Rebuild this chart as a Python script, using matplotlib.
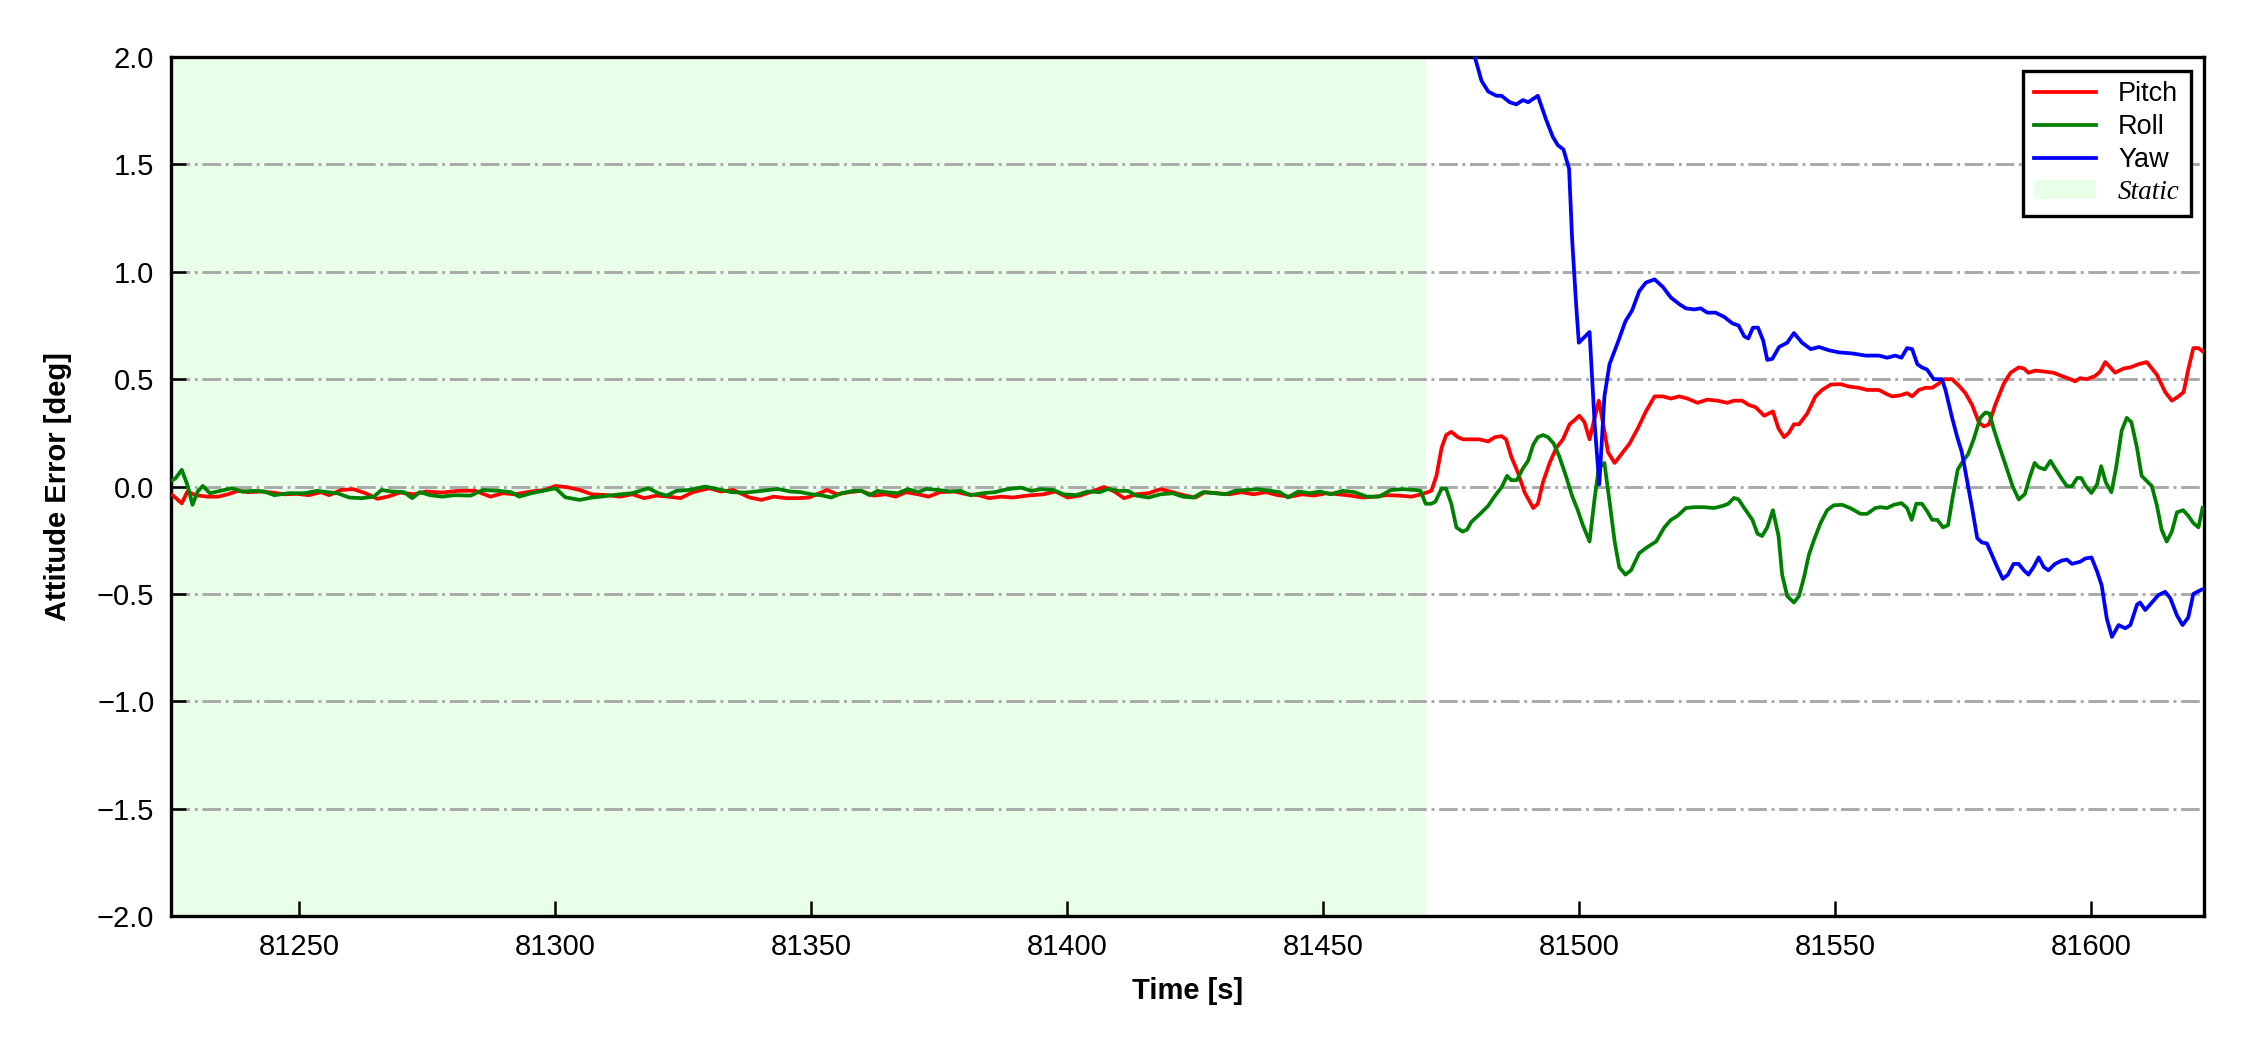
import matplotlib
matplotlib.use("Agg")
import matplotlib.pyplot as plt

# Time stamps [s] and attitude errors [deg]
pitch_t = [81225.3, 81227.1, 81228.2, 81229.8, 81232.2, 81234.2, 81236.1, 81238.1, 81240.1, 81242.5,
           81244.8, 81247.2, 81249.6, 81251.9, 81254.3, 81255.9, 81258.2, 81260.6, 81263.0, 81265.3,
           81267.3, 81269.7, 81272.4, 81274.8, 81277.9, 81281.1, 81284.3, 81287.4, 81289.8, 81292.2,
           81295.3, 81298.1, 81300.1, 81302.4, 81304.8, 81307.2, 81310.3, 81312.7, 81315.1, 81317.4,
           81319.8, 81322.2, 81324.5, 81326.9, 81330.1, 81332.4, 81334.8, 81338.0, 81340.3, 81342.7,
           81345.1, 81347.4, 81349.6, 81351.6, 81353.1, 81355.1, 81357.5, 81359.8, 81362.2, 81364.6,
           81366.5, 81368.5, 81370.9, 81372.9, 81375.2, 81378.0, 81380.4, 81382.7, 81384.7, 81387.1,
           81389.4, 81392.2, 81395.4, 81397.7, 81400.1, 81402.5, 81404.8, 81407.2, 81409.2, 81411.1,
           81413.5, 81415.9, 81418.2, 81420.6, 81423.0, 81425.0, 81426.9, 81429.3, 81431.7, 81434.0,
           81436.4, 81438.8, 81441.1, 81443.5, 81445.9, 81448.2, 81450.6, 81453.0, 81455.3, 81457.7,
           81460.1, 81462.4, 81464.8, 81467.2, 81469.2,
           81471.1, 81472.1, 81473.1, 81474.0, 81475.0, 81476.3, 81477.3, 81478.9, 81480.5, 81482.2,
           81483.5, 81484.8, 81485.7, 81486.7, 81488.0, 81489.3, 81491.0, 81491.9, 81492.9, 81494.2,
           81495.5, 81496.8, 81498.1, 81499.1, 81500.0, 81501.0, 81502.0, 81503.0, 81503.8, 81504.6,
           81505.6, 81506.9, 81508.2, 81509.8, 81511.4, 81513.0, 81514.7, 81516.3, 81517.9, 81519.5,
           81521.1, 81523.1, 81525.0, 81527.0, 81528.9, 81530.2, 81531.8, 81533.1, 81534.4, 81536.1,
           81537.8, 81538.9, 81540.0, 81540.9, 81541.9, 81542.9, 81544.5, 81546.1, 81547.4, 81549.1,
           81551.0, 81552.6, 81554.6, 81556.2, 81558.5, 81560.1, 81561.1, 81562.7, 81564.0, 81565.0,
           81566.3, 81567.6, 81568.9, 81570.2, 81571.2, 81572.8, 81574.1, 81575.4, 81576.7, 81578.0,
           81579.0, 81580.0, 81581.2, 81582.9, 81584.2, 81585.8, 81586.8, 81587.7, 81589.0, 81591.0,
           81592.6, 81594.2, 81595.9, 81596.8, 81597.8, 81599.1, 81600.7, 81601.7, 81602.7, 81603.7,
           81604.6, 81606.3, 81607.6, 81609.2, 81610.8, 81612.8, 81614.4, 81615.7, 81617.0, 81618.0,
           81618.9, 81619.9, 81620.9, 81621.7]
pitch = [-0.040, -0.078, -0.023, -0.040, -0.047, -0.047, -0.036, -0.020, -0.026, -0.023,
         -0.028, -0.036, -0.034, -0.040, -0.026, -0.040, -0.016, -0.012, -0.031, -0.057,
         -0.047, -0.028, -0.036, -0.023, -0.028, -0.020, -0.019, -0.047, -0.031, -0.036,
         -0.023, -0.016, 0.003, -0.003, -0.016, -0.036, -0.040, -0.047, -0.036, -0.054,
         -0.042, -0.047, -0.054, -0.026, -0.008, -0.023, -0.016, -0.051, -0.062, -0.047,
         -0.054, -0.054, -0.051, -0.031, -0.016, -0.036, -0.026, -0.020, -0.042, -0.036,
         -0.047, -0.026, -0.036, -0.047, -0.026, -0.023, -0.036, -0.040, -0.054, -0.047,
         -0.051, -0.042, -0.036, -0.023, -0.051, -0.042, -0.023, -0.002, -0.023, -0.054,
         -0.036, -0.031, -0.012, -0.026, -0.042, -0.051, -0.026, -0.031, -0.036, -0.026,
         -0.036, -0.026, -0.040, -0.047, -0.036, -0.042, -0.031, -0.036, -0.042, -0.051,
         -0.047, -0.040, -0.042, -0.047, -0.036,
         -0.020, 0.050, 0.180, 0.240, 0.255, 0.230, 0.220, 0.220, 0.220, 0.210,
         0.230, 0.235, 0.220, 0.140, 0.066, -0.026, -0.100, -0.080, 0.020, 0.110,
         0.180, 0.220, 0.290, 0.310, 0.330, 0.300, 0.220, 0.320, 0.400, 0.300,
         0.160, 0.110, 0.150, 0.200, 0.270, 0.350, 0.420, 0.420, 0.410, 0.420,
         0.410, 0.390, 0.405, 0.400, 0.390, 0.400, 0.400, 0.380, 0.370, 0.330,
         0.350, 0.270, 0.230, 0.250, 0.290, 0.290, 0.340, 0.420, 0.450, 0.475,
         0.477, 0.466, 0.460, 0.450, 0.450, 0.430, 0.420, 0.425, 0.435, 0.420,
         0.450, 0.460, 0.460, 0.480, 0.500, 0.500, 0.470, 0.435, 0.380, 0.300,
         0.280, 0.290, 0.380, 0.480, 0.530, 0.555, 0.550, 0.530, 0.540, 0.535,
         0.530, 0.515, 0.500, 0.490, 0.505, 0.500, 0.515, 0.535, 0.580, 0.555,
         0.530, 0.550, 0.555, 0.570, 0.580, 0.520, 0.440, 0.400, 0.420, 0.440,
         0.545, 0.645, 0.645, 0.630]

roll_t = [81225.3, 81225.9, 81227.1, 81228.2, 81229.2, 81230.2, 81231.2, 81232.6, 81234.6, 81236.9,
          81238.9, 81241.3, 81243.2, 81245.2, 81248.0, 81251.1, 81253.5, 81255.5, 81257.5, 81259.8,
          81262.2, 81264.6, 81266.1, 81268.1, 81270.5, 81272.1, 81273.6, 81275.6, 81278.0, 81280.3,
          81283.5, 81285.9, 81289.0, 81291.4, 81293.0, 81295.3, 81298.5, 81300.1, 81302.0, 81304.8,
          81307.2, 81310.3, 81312.7, 81315.1, 81318.2, 81320.2, 81321.8, 81323.7, 81326.1, 81329.3,
          81331.6, 81334.4, 81337.2, 81340.3, 81343.5, 81345.9, 81348.0, 81350.0, 81351.9, 81353.9,
          81355.9, 81358.3, 81359.8, 81361.4, 81363.0, 81364.6, 81366.9, 81368.9, 81370.9, 81372.5,
          81374.8, 81377.2, 81379.2, 81381.1, 81383.5, 81385.9, 81388.3, 81391.0, 81393.0, 81394.9,
          81397.3, 81399.3, 81401.7, 81404.0, 81406.4, 81408.0, 81410.0, 81411.9, 81413.5, 81415.9,
          81418.2, 81420.6, 81422.6, 81424.6, 81426.5, 81428.9, 81430.9, 81432.8, 81434.8, 81437.2,
          81439.6, 81441.5, 81443.1, 81445.1, 81447.4, 81449.4, 81451.4, 81453.8, 81456.1, 81458.5,
          81460.9, 81463.2, 81465.6, 81468.0, 81469.0, 81470.0,
          81471.1, 81471.9, 81473.1, 81474.0, 81475.0, 81476.0, 81477.2, 81478.1, 81478.9, 81480.5,
          81482.2, 81483.5, 81484.8, 81485.9, 81486.7, 81487.8, 81489.0, 81490.0, 81491.0, 81491.9,
          81492.9, 81493.9, 81495.0, 81496.1, 81497.4, 81498.6, 81499.7, 81500.7, 81502.0, 81503.0,
          81503.8, 81504.9, 81505.9, 81506.9, 81507.8, 81509.0, 81510.1, 81511.7, 81513.4, 81515.0,
          81516.6, 81517.9, 81519.2, 81520.8, 81522.4, 81524.4, 81526.3, 81528.0, 81529.1, 81530.2,
          81531.1, 81532.2, 81533.8, 81534.8, 81535.7, 81536.7, 81537.8, 81538.9, 81539.6, 81540.6,
          81541.9, 81542.9, 81543.9, 81544.8, 81545.8, 81547.1, 81548.4, 81549.7, 81551.3, 81552.9,
          81554.9, 81556.2, 81557.8, 81558.8, 81560.1, 81561.4, 81562.9, 81564.0, 81564.9, 81565.8,
          81566.9, 81567.9, 81568.9, 81569.9, 81571.0, 81572.0, 81572.9, 81573.9, 81574.7, 81575.9,
          81577.0, 81578.3, 81579.3, 81580.1, 81580.9, 81581.9, 81583.2, 81584.6, 81585.8, 81587.0,
          81587.9, 81588.9, 81589.7, 81590.9, 81592.0, 81592.9, 81594.1, 81595.2, 81596.2, 81597.2,
          81598.0, 81598.9, 81600.0, 81601.1, 81601.9, 81602.8, 81603.9, 81604.8, 81605.9, 81606.9,
          81607.8, 81608.9, 81609.8, 81610.8, 81611.8, 81612.8, 81613.7, 81614.7, 81615.7, 81616.7,
          81617.9, 81618.9, 81619.9, 81620.9, 81621.7]
roll = [0.030, 0.039, 0.078, 0.008, -0.085, -0.023, 0.003, -0.031, -0.020, -0.008,
        -0.023, -0.020, -0.023, -0.040, -0.031, -0.031, -0.020, -0.026, -0.031, -0.051,
        -0.054, -0.047, -0.016, -0.023, -0.026, -0.054, -0.026, -0.040, -0.047, -0.040,
        -0.042, -0.016, -0.020, -0.026, -0.047, -0.031, -0.016, -0.008, -0.050, -0.062,
        -0.051, -0.043, -0.036, -0.031, -0.008, -0.031, -0.042, -0.020, -0.016, 0.000,
        -0.011, -0.026, -0.028, -0.020, -0.011, -0.023, -0.026, -0.036, -0.040, -0.051,
        -0.031, -0.020, -0.020, -0.040, -0.020, -0.026, -0.031, -0.012, -0.026, -0.011,
        -0.016, -0.023, -0.020, -0.040, -0.031, -0.026, -0.012, -0.005, -0.020, -0.012,
        -0.016, -0.036, -0.040, -0.023, -0.026, -0.011, -0.020, -0.020, -0.042, -0.051,
        -0.036, -0.031, -0.047, -0.051, -0.026, -0.031, -0.036, -0.020, -0.016, -0.012,
        -0.020, -0.026, -0.051, -0.023, -0.031, -0.023, -0.036, -0.020, -0.026, -0.047,
        -0.047, -0.016, -0.012, -0.016, -0.020, -0.080,
        -0.080, -0.070, -0.010, -0.010, -0.080, -0.190, -0.210, -0.200, -0.165, -0.130,
        -0.090, -0.044, -0.004, 0.050, 0.030, 0.030, 0.085, 0.120, 0.195, 0.230,
        0.240, 0.230, 0.200, 0.140, 0.048, -0.044, -0.110, -0.180, -0.256, -0.053,
        0.085, 0.110, -0.070, -0.256, -0.376, -0.410, -0.390, -0.310, -0.280, -0.256,
        -0.190, -0.155, -0.136, -0.100, -0.096, -0.096, -0.100, -0.090, -0.080, -0.053,
        -0.060, -0.100, -0.155, -0.220, -0.230, -0.190, -0.110, -0.230, -0.410, -0.510,
        -0.540, -0.510, -0.420, -0.320, -0.250, -0.170, -0.110, -0.087, -0.085, -0.100,
        -0.127, -0.127, -0.100, -0.096, -0.100, -0.085, -0.077, -0.100, -0.155, -0.080,
        -0.080, -0.114, -0.155, -0.155, -0.190, -0.180, -0.050, 0.080, 0.110, 0.150,
        0.220, 0.320, 0.345, 0.340, 0.270, 0.195, 0.103, 0.002, -0.060, -0.035,
        0.040, 0.110, 0.090, 0.080, 0.120, 0.085, 0.040, 0.002, 0.002, 0.040,
        0.040, 0.002, -0.030, 0.010, 0.095, 0.020, -0.026, 0.085, 0.260, 0.320,
        0.300, 0.180, 0.050, 0.026, 0.002, -0.090, -0.200, -0.256, -0.210, -0.120,
        -0.110, -0.136, -0.170, -0.190, -0.100]

yaw_t = [81470.0, 81474.0, 81477.5, 81479.6, 81480.9, 81482.2, 81483.8, 81484.8, 81486.4, 81487.7,
         81489.0, 81490.0, 81491.9, 81493.5, 81494.8, 81495.8, 81496.9, 81498.0, 81498.6, 81499.4,
         81499.9, 81502.0, 81503.0, 81503.9, 81504.9, 81505.9, 81507.5, 81509.0, 81510.3, 81511.7,
         81513.0, 81514.7, 81516.3, 81517.9, 81519.5, 81520.8, 81522.4, 81523.7, 81525.0, 81526.6,
         81528.3, 81529.9, 81531.1, 81532.2, 81533.0, 81533.9, 81534.9, 81535.9, 81536.7, 81537.7,
         81539.0, 81540.6, 81541.9, 81543.5, 81545.2, 81546.8, 81548.7, 81550.7, 81553.3, 81555.9,
         81558.5, 81560.1, 81561.7, 81562.9, 81564.0, 81565.0, 81566.0, 81566.9, 81567.9, 81569.2,
         81570.8, 81571.5, 81572.8, 81573.8, 81574.7, 81575.7, 81576.7, 81577.7, 81578.6, 81579.6,
         81580.6, 81581.6, 81582.7, 81583.7, 81584.8, 81585.8, 81586.8, 81587.7, 81588.7, 81589.7,
         81590.7, 81591.6, 81592.9, 81594.2, 81595.2, 81596.2, 81597.8, 81598.8, 81600.0, 81601.1,
         81602.0, 81603.0, 81604.0, 81605.3, 81606.6, 81607.6, 81608.9, 81609.5, 81610.5, 81611.8,
         81613.1, 81614.4, 81615.4, 81616.7, 81617.8, 81618.9, 81619.9, 81621.5]
yaw = [3.60, 3.00, 2.40, 2.00, 1.89, 1.84, 1.82, 1.82, 1.79, 1.78,
       1.80, 1.79, 1.82, 1.71, 1.63, 1.59, 1.57, 1.48, 1.15, 0.84,
       0.67, 0.72, 0.29, 0.01, 0.42, 0.57, 0.67, 0.77, 0.82, 0.91,
       0.95, 0.965, 0.93, 0.88, 0.85, 0.83, 0.825, 0.83, 0.81, 0.81,
       0.79, 0.76, 0.75, 0.70, 0.69, 0.74, 0.74, 0.68, 0.59, 0.595,
       0.65, 0.67, 0.715, 0.67, 0.64, 0.65, 0.635, 0.625, 0.62, 0.61,
       0.61, 0.60, 0.61, 0.60, 0.645, 0.64, 0.57, 0.555, 0.545, 0.50,
       0.50, 0.45, 0.32, 0.23, 0.16, 0.03, -0.10, -0.24, -0.26, -0.265,
       -0.32, -0.375, -0.43, -0.41, -0.36, -0.36, -0.39, -0.41, -0.375, -0.33,
       -0.375, -0.39, -0.36, -0.345, -0.34, -0.36, -0.35, -0.335, -0.33, -0.395,
       -0.46, -0.615, -0.70, -0.645, -0.66, -0.645, -0.55, -0.54, -0.575, -0.54,
       -0.505, -0.49, -0.52, -0.60, -0.645, -0.61, -0.50, -0.48]

static_span = (81225.0, 81470.0)
x_lim = (81225.0, 81622.0)
y_ticks = [-2.0, -1.5, -1.0, -0.5, 0.0, 0.5, 1.0, 1.5, 2.0]

plt.rcParams["font.family"] = ["Liberation Sans", "DejaVu Sans"]

fig = plt.figure(figsize=(7.5, 3.5), dpi=300)
ax = fig.add_axes([0.076, 0.1276, 0.9036, 0.818])

ax.axvspan(*static_span, color="#00ff00", alpha=0.09, lw=0, zorder=0, label="Static")
ax.plot(pitch_t, pitch, color="red", lw=0.9, label="Pitch", zorder=3)
ax.plot(roll_t, roll, color="green", lw=0.9, label="Roll", zorder=3)
ax.plot(yaw_t, yaw, color="blue", lw=0.9, label="Yaw", zorder=3)

ax.set_xlim(*x_lim)
ax.set_ylim(-2.0, 2.0)
ax.set_yticks(y_ticks)
ax.yaxis.grid(True, linestyle="-.", color="darkgray", lw=0.7, zorder=1)
ax.set_axisbelow(True)

ax.tick_params(direction="in", length=3.5, width=0.6, labelsize=7, pad=4)
for s in ax.spines.values():
    s.set_linewidth(0.8)

ax.set_xlabel("Time [s]", fontsize=7, fontweight="bold")
ax.set_ylabel("Attitude Error [deg]", fontsize=7, fontweight="bold", labelpad=6)

h, l = ax.get_legend_handles_labels()
order = [1, 2, 3, 0]
leg = ax.legend([h[i] for i in order], [l[i] for i in order], loc="upper right",
                fontsize=6.5, frameon=True, fancybox=False, edgecolor="black",
                framealpha=1, labelspacing=0.25, handlelength=2.3, borderpad=0.4)
leg.get_frame().set_linewidth(0.8)
st = leg.get_texts()[3]
st.set_fontfamily("Liberation Serif")
st.set_fontstyle("italic")

fig.savefig("out.png", dpi=300)
